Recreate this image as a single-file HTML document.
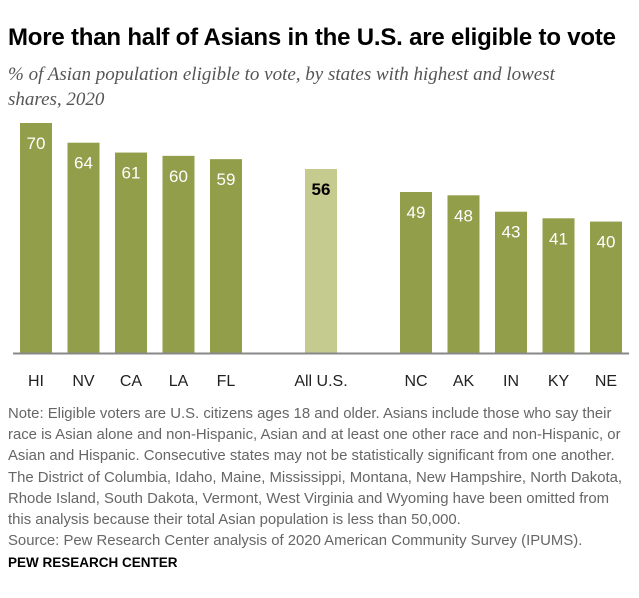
<!DOCTYPE html>
<html><head><meta charset="utf-8"><style>
body{margin:0;background:#fff;width:639px;height:598px;overflow:hidden;font-family:"Liberation Sans",sans-serif;position:relative}
#title{position:absolute;left:8px;top:24px;font-size:24px;font-weight:bold;color:#000;white-space:nowrap;letter-spacing:-0.2px}
#sub{position:absolute;left:8px;top:62px;width:600px;font-family:"Liberation Serif",serif;font-style:italic;font-size:19px;line-height:25px;color:#555}
#note{position:absolute;left:8px;top:404px;width:628px;font-size:14.9px;line-height:21.2px;color:#666}
#foot{position:absolute;left:8px;top:555px;font-size:13.5px;font-weight:bold;color:#000}
svg{position:absolute;left:0;top:0}
</style></head><body>
<div id="title">More than half of Asians in the U.S. are eligible to vote</div>
<div id="sub">% of Asian population eligible to vote, by states with highest and lowest shares, 2020</div>
<svg id="chart" width="639" height="400"></svg>
<div id="note">Note: Eligible voters are U.S. citizens ages 18 and older. Asians include those who say their race is Asian alone and non-Hispanic, Asian and at least one other race and non-Hispanic, or Asian and Hispanic. Consecutive states may not be statistically significant from one another. The District of Columbia, Idaho, Maine, Mississippi, Montana, New Hampshire, North Dakota, Rhode Island, South Dakota, Vermont, West Virginia and Wyoming have been omitted from this analysis because their total Asian population is less than 50,000.<br>Source: Pew Research Center analysis of 2020 American Community Survey (IPUMS).</div>
<div id="foot">PEW RESEARCH CENTER</div>
<script>
const categories=["HI","NV","CA","LA","FL","All U.S.","NC","AK","IN","KY","NE"];
const values=[70,64,61,60,59,56,49,48,43,41,40];
const slots=[0,1,2,3,4,6,8,9,10,11,12];
const NS="http://www.w3.org/2000/svg";
const svg=document.getElementById('chart');
const base=353,perUnit=230/70;
const y=v=>base-v*perUnit;
const x=s=>36+s*47.5;
function mk(t,a){const e=document.createElementNS(NS,t);for(const k in a)e.setAttribute(k,a[k]);svg.appendChild(e);return e;}
categories.forEach((c,i)=>{
  const isAll=c==="All U.S.";
  const cx=x(slots[i]);
  const r=mk('rect',{x:cx-16,y:y(values[i]),width:32,height:base-y(values[i]),fill:isAll?'#c5cb8f':'#939e4a'});
  
  
  const t=mk('text',{x:cx,y:y(values[i])+26,'text-anchor':'middle','font-size':'17',fill:isAll?'#000':'#fff','font-weight':isAll?'bold':'normal'});
  t.textContent=values[i];
  
  
  const l=mk('text',{x:cx,y:386,'text-anchor':'middle','font-size':'16',fill:'#222'});
  l.textContent=c;
  
  
});
const ax=mk('line',{x1:13,x2:629,y1:base+0.5,y2:base+0.5,stroke:'#888','stroke-width':2});


</script>
</body></html>
